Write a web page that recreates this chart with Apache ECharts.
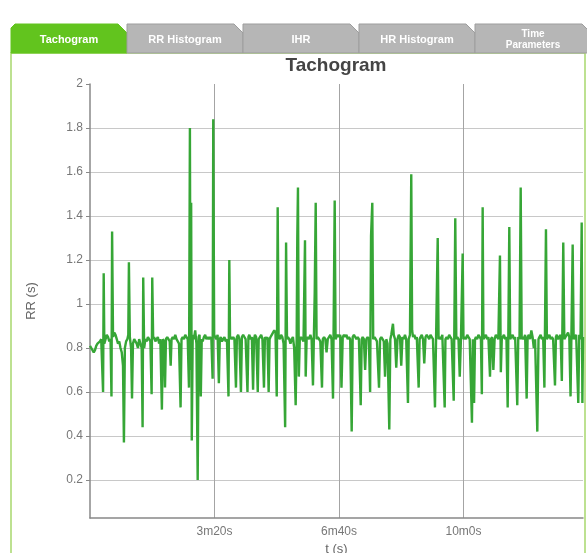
<!DOCTYPE html>
<html>
<head>
<meta charset="utf-8">
<script src="https://cdn.jsdelivr.net/npm/echarts@6/dist/echarts.min.js"></script>
<style>
html,body{margin:0;padding:0;background:#fff;}
#chart{width:587px;height:553px;}
</style>
</head>
<body>
<div id="chart"></div>
<script>
// ---- data ----
const chartTitle = 'Tachogram';
const tabLabels = ['Tachogram', 'RR Histogram', 'IHR', 'HR Histogram', 'Time\nParameters'];
const yTickMin = 0.2, yTickMax = 2, yTickStep = 0.2;
const xTickStep = 200;
const xMax = 792;
// beat times (s)
const times = [
0,2,4,6,8,10,12,14,16,18,20,21,22,23,25,27,29,31,33,34.5,35.5,37,39,41,43,45,47,49,51,53,54.5,56,58,60,61.5,62.5,64,66,67.5,69,71,73,75,77,79,81,83,84.5,85.5,87,89,91,93,95,97,99,100,101.5,103,105,107,109,111,113,115.5,117,119,120.5,122,124,126,128,129.6,131,133,135,137,139,141,143,145.5,147,149,151,153,155,157,159,160.5,161.5,162.5,163.5,165,167,169,171,173,174.5,176,178,179.5,181,183,185,187,189,191,193,195,197,198,199.5,201,203,205,207,208.5,210,212,214,216,218,220,222.5,223.8,225,
226,228,230,232,234.5,236,238,240,242.5,244,246,248,250,253,254.5,256,258,260,262,263.5,265,267,269.5,271,273,275,277,279.5,281,283,285,287,288.5,290,292,294,296,298,300,301.5,303,305,307,309,311,313.5,315,316.5,318,320,322,324,326,328,330.4,332,333,334.1,335.5,337,339,341,343,345.4,346.5,348,350,352,354,356,358.2,361,362.6,364,366,368,370,372.7,374,376,378,380,382,384,386,388,390.4,393.1,394.5,396,398,400,402,404,406,408,410,412,414,416,418,420.4,422,424,426,428,430,432,434.9,436.5,438,440,442,444,446,448,450,451.5,453.5,455,457,459,461,464.3,466,468,470,472,474,476,478,480.8,482.5,484,486.7,488,490,492,494,496,498,500,502,504,506,508,510.8,512,514,516.1,517.5,519,521,523,525,528,529.5,531,533,535,537,539,541,543,545,547,549,551,554.2,556,558.6,560,562,564,566,569.8,571,573,575,577,579,581,584.3,586.8,588.5,590,592,594,596,598.7,600,602,604,606,608,610,613.6,615,617,618.5,620,622,624,626,628,629.5,630.8,632,634,636,638,640,642.6,644,646,648,650,652,654,656,658.6,660,661.5,663,665,667,669,671,673.6,675,677,679,681,683,686.4,688,690,691.9,693.5,695,697,699,701.5,703,705,707,709,711,713,715,718.6,720.5,722,724,726,728,730,732.5,734,736,738,740,742,744,747,748.5,750,752,754,756,758,760.3,762,764,766,768,770,772,775.4,777,779,781,784.4,786,788,789.9,791,792
];
// RR intervals (s)
const rrValues = [
0.81,0.80,0.79,0.78,0.79,0.81,0.82,0.82,0.83,0.84,0.84,0.60,1.14,0.82,0.84,0.86,0.85,0.83,0.84,0.58,1.33,0.85,0.87,0.86,0.84,0.82,0.83,0.80,0.78,0.72,0.37,0.80,0.83,0.84,0.86,1.19,0.85,0.80,0.57,0.82,0.84,0.83,0.82,0.80,0.84,0.82,0.80,0.44,1.12,0.80,0.84,0.83,0.85,0.84,0.83,0.59,1.12,0.84,0.85,0.83,0.84,0.85,0.82,0.84,0.52,0.84,0.83,0.62,0.84,0.85,0.84,0.83,0.72,0.84,0.85,0.84,0.86,0.84,0.83,0.82,0.53,0.84,0.85,0.84,0.86,0.85,0.84,0.62,1.80,0.70,1.46,0.38,0.86,0.84,0.88,0.82,0.20,0.85,0.86,0.58,0.84,0.83,0.85,0.86,0.84,0.85,0.84,0.85,0.84,0.66,1.84,0.86,0.85,0.84,0.86,0.64,0.84,0.85,0.83,0.84,0.85,0.83,0.84,0.58,1.20,0.84,
0.85,0.84,0.85,0.84,0.62,0.85,0.86,0.84,0.60,0.85,0.86,0.85,0.84,0.60,0.85,0.86,0.84,0.85,0.61,0.84,0.86,0.85,0.60,0.84,0.85,0.86,0.84,0.62,0.85,0.84,0.85,0.60,0.84,0.85,0.86,0.87,0.88,0.87,0.58,1.44,0.85,0.84,0.86,0.85,0.82,0.44,1.28,0.84,0.85,0.84,0.82,0.84,0.85,0.80,0.54,0.84,1.30,1.53,0.67,0.84,0.85,0.84,0.83,1.29,0.67,0.84,0.85,0.84,0.86,0.84,0.63,1.05,1.46,0.84,0.85,0.84,0.83,0.62,0.84,0.85,0.84,0.78,0.84,0.85,0.86,0.84,0.57,1.47,0.84,0.85,0.86,0.85,0.86,0.62,0.85,0.86,0.85,0.86,0.84,0.85,0.84,0.42,0.85,0.86,0.85,0.84,0.85,0.84,0.54,0.84,0.85,0.84,0.70,0.84,0.85,0.84,0.60,1.31,1.46,0.84,0.85,0.84,0.83,0.62,0.84,0.85,0.84,0.83,0.67,0.84,0.82,0.43,0.84,0.86,0.91,0.86,0.84,0.71,0.84,0.86,0.85,0.72,0.85,0.84,0.86,0.84,0.55,0.84,0.86,1.59,0.88,0.85,0.86,0.84,0.85,0.62,0.84,0.85,0.86,0.84,0.73,0.85,0.86,0.85,0.84,0.86,0.85,0.84,0.53,0.85,1.30,0.84,0.85,0.84,0.86,0.53,0.84,0.85,0.84,0.86,0.85,0.84,0.56,1.39,0.84,0.85,0.84,0.67,0.85,1.23,0.84,0.85,0.84,0.86,0.85,0.84,0.46,0.84,0.55,0.84,0.85,0.84,0.86,0.85,0.84,0.59,1.44,0.84,0.85,0.86,0.84,0.85,0.67,0.84,0.85,0.70,0.84,0.86,0.85,0.84,1.22,0.69,0.84,0.85,0.86,0.84,0.85,0.53,1.35,0.84,0.85,0.86,0.84,0.85,0.54,0.85,0.84,1.53,0.84,0.85,0.84,0.86,0.57,0.85,0.86,0.84,0.88,0.85,0.80,0.84,0.42,0.84,0.85,0.86,0.84,0.85,0.62,1.34,0.84,0.85,0.86,0.84,0.85,0.84,0.63,0.85,0.86,0.84,0.85,0.86,0.65,1.28,0.84,0.85,0.86,0.87,0.85,0.58,1.27,0.84,0.85,0.86,0.55,0.86,0.84,1.37,0.55,0.85
];

const seriesData = times.map((t, i) => [t, rrValues[i]]);

function fmtTime(v) {
  const m = Math.floor(v / 60);
  const s = Math.round(v - m * 60);
  return m + 'm' + s + 's';
}

// ---- tab graphics ----
const tabY0 = 24, tabY1 = 53, tabW = 116, tabX0 = 11, cut = 9;
const graphics = [];
graphics.push({
  type: 'rect', z: 0,
  shape: { x: 11, y: tabY1, width: 574, height: 520 },
  style: { fill: 'none', stroke: '#a8d86e', lineWidth: 1.5 }
});
tabLabels.forEach((lab, i) => {
  const x0 = tabX0 + i * tabW, x1 = x0 + tabW;
  const active = i === 0;
  graphics.push({
    type: 'polygon', z: 10,
    shape: { points: [[x0, tabY1], [x0, tabY0 + (active ? 4 : 0)], [x0 + (active ? 4 : 0), tabY0], [x1 - cut, tabY0], [x1, tabY0 + cut], [x1, tabY1]] },
    style: { fill: active ? '#62c41e' : '#b6b6b6', stroke: active ? '#62c41e' : '#9d9d9d', lineWidth: 1 }
  });
  graphics.push({
    type: 'text', z: 11,
    x: x0 + tabW / 2, y: (tabY0 + tabY1) / 2 + 1,
    style: {
      text: lab, fill: '#ffffff', align: 'center', verticalAlign: 'middle',
      font: (lab.indexOf('\n') >= 0 ? 'bold 10px' : 'bold 11px') + ' "Liberation Sans", Arial, sans-serif',
      lineHeight: 11
    }
  });
});
graphics.push({
  type: 'text', z: 11, x: 336, y: 66,
  style: { text: chartTitle, fill: '#444', align: 'center', verticalAlign: 'middle',
    font: 'bold 19px "Liberation Sans", Arial, sans-serif' }
});

const chart = echarts.init(document.getElementById('chart'), null, { renderer: 'canvas' });
chart.setOption({
  animation: false,
  backgroundColor: '#ffffff',
  textStyle: { fontFamily: '"Liberation Sans", Arial, sans-serif' },
  graphic: graphics,
  grid: [
    { left: 90, right: 4, top: 84, bottom: 35, containLabel: false, outerBoundsMode: 'none' },
    { left: 90, right: 4, top: 84, bottom: 73, containLabel: false, outerBoundsMode: 'none' }
  ],
  xAxis: [
    {
      gridIndex: 0, type: 'value', min: 0, max: xMax, interval: xTickStep,
      axisLine: { show: true, lineStyle: { color: '#888', width: 1.5 } },
      axisTick: { show: false },
      axisLabel: { color: '#777', fontSize: 12, margin: 8, showMinLabel: false, showMaxLabel: false,
        formatter: v => (v % xTickStep === 0 && v > 0) ? fmtTime(v) : '' },
      splitLine: { show: true, showMinLine: false, showMaxLine: false, lineStyle: { color: '#a4a4a4', width: 1 } },
      name: 't (s)', nameLocation: 'middle', nameGap: 25,
      nameTextStyle: { color: '#666', fontSize: 13 }
    },
    { gridIndex: 1, type: 'value', min: 0, max: xMax, show: false }
  ],
  yAxis: [
    {
      gridIndex: 0, type: 'value', min: 2 - 434 / 220, max: 2,
      axisLine: { show: true, lineStyle: { color: '#888', width: 1.5 } },
      axisTick: { show: false }, axisLabel: { show: false }, splitLine: { show: false },
      name: 'RR (s)', nameLocation: 'middle', nameGap: 52,
      nameTextStyle: { color: '#666', fontSize: 13 }
    },
    {
      gridIndex: 1, type: 'value', min: yTickMin, max: yTickMax, interval: yTickStep,
      axisLine: { show: false },
      axisTick: { show: true, length: 4, lineStyle: { color: '#888' } },
      axisLabel: { color: '#777', fontSize: 12, margin: 7,
        formatter: v => String(parseFloat(v.toFixed(1))) },
      splitLine: { show: true, showMaxLine: false, lineStyle: { color: '#c8c8c8', width: 1 } }
    }
  ],
  series: [
    {
      type: 'line', xAxisIndex: 0, yAxisIndex: 0,
      data: seriesData, showSymbol: false, symbol: 'none',
      lineStyle: { color: '#36a636', width: 2.4 },
      z: 5
    }
  ]
});
</script>
</body>
</html>
